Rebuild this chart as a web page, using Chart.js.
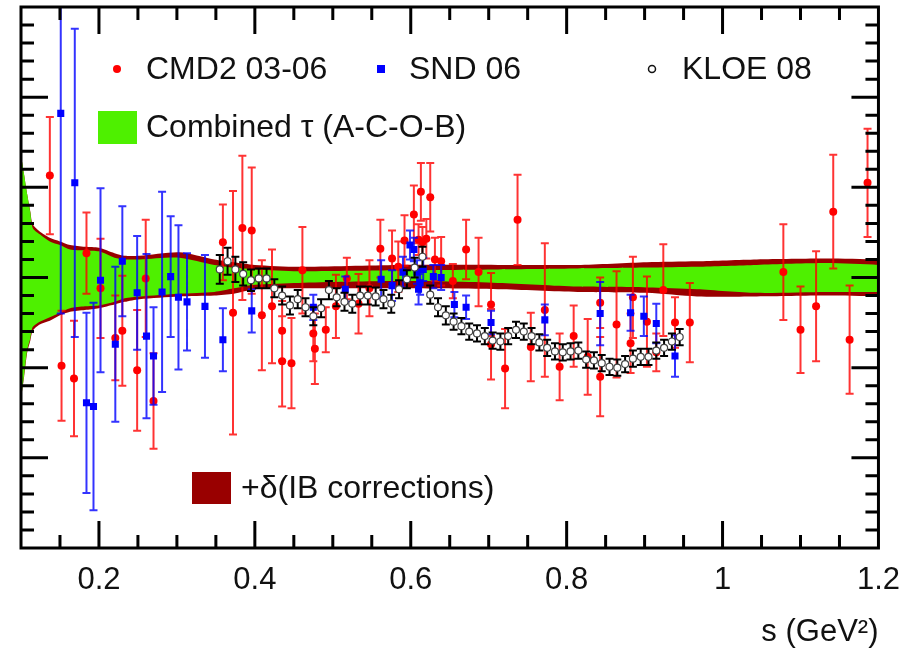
<!DOCTYPE html>
<html>
<head>
<meta charset="utf-8">
<script src="https://cdn.jsdelivr.net/npm/chart.js@4.4.1/dist/chart.umd.min.js"></script>
<style>
  html, body { margin: 0; padding: 0; background: #fff; }
  #wrap { width: 914px; height: 651px; }
</style>
</head>
<body>
<div id="wrap"><canvas id="chart" width="914" height="651"></canvas></div>
<script>
// CMD2 03-06 (s in GeV^2, relative difference, error)
const cmdS = [0.137,0.152,0.168,0.184,0.202,0.221,0.230,0.249,0.260,0.270,0.359,0.372,0.384,0.396,0.409,0.422,0.435,0.435,0.447,0.461,0.475,0.477,0.491,0.504,0.518,0.533,0.547,0.561,0.576,0.584,0.592,0.604,0.610,0.613,0.615,0.620,0.625,0.631,0.639,0.654,0.671,0.687,0.703,0.703,0.721,0.737,0.754,0.772,0.791,0.809,0.827,0.843,0.843,0.864,0.882,0.885,0.903,0.915,0.924,0.939,0.958,1.078,1.100,1.120,1.142,1.163,1.186];
const cmdV = [11.3,-9.8,-11.2,2.7,-1.2,-6.7,-5.9,-10.3,-0.1,-13.7,3.9,-3.9,5.5,5.2,-4.2,-3.2,-5.9,-9.3,-9.5,0.8,-6.2,-7.9,-5.8,-3.2,-0.1,-2.9,-1.2,3.2,2.1,1.2,4.1,7.0,4.2,9.5,3.9,4.3,8.9,2.0,1.8,-0.4,3.1,0.6,-3.0,-7.4,-10.1,6.4,-7.7,-3.6,-9.9,-6.5,-8.8,-11.0,-2.8,-5.2,-7.3,-2.2,-4.9,-8.3,-1.4,-5.0,-5.0,0.6,-5.8,-3.2,7.3,-6.9,10.5];
const cmdE = [6.5,6.1,6.4,4.5,5.5,4.7,6.1,6.7,6.5,5.3,4.2,13.5,8.0,7.0,6.1,6.3,3.3,5.0,5.0,4.8,3.1,3.9,2.5,3.5,2.3,3.3,3.1,3.2,3.1,2.8,2.8,3.2,1.7,3.2,1.7,2.2,3.8,2.4,2.7,1.9,3.3,3.8,3.5,3.9,4.4,5.0,3.8,7.4,3.7,3.4,4.2,4.4,2.8,5.9,3.3,4.5,5.0,2.1,5.1,2.8,4.4,5.3,4.8,6.1,6.3,6.0,6.0];

// SND 06
const sndS = [0.151,0.169,0.184,0.193,0.202,0.221,0.230,0.249,0.261,0.270,0.281,0.292,0.302,0.313,0.336,0.359,0.396,0.475,0.516,0.562,0.576,0.590,0.599,0.604,0.608,0.610,0.612,0.616,0.629,0.639,0.656,0.671,0.703,0.772,0.843,0.882,0.899,0.915,0.939];
const sndV = [18.2,10.5,-13.9,-14.3,-0.3,-7.4,1.8,-1.7,-6.5,-8.7,-1.6,0.1,-2.2,-2.7,-3.2,-6.9,-3.7,-3.3,-1.3,-0.2,-0.9,0.6,3.6,3.1,0.6,-1.3,-0.6,0.9,0.1,0.0,-3.0,-3.3,-5.0,-4.7,-4.0,-3.9,-4.3,-5.1,-8.7];
const sndE = [22.2,17.1,10.0,11.5,10.2,8.6,6.1,6.3,9.1,5.4,11.1,6.7,8.0,5.4,5.7,3.5,2.4,1.4,1.4,2.1,1.7,1.7,1.6,1.3,1.3,1.7,1.3,1.3,1.3,1.4,1.4,1.3,1.3,1.7,3.5,2.0,2.2,2.2,2.3];

// KLOE 08
const kloeS = [0.355,0.365,0.375,0.385,0.395,0.405,0.415,0.425,0.435,0.445,0.455,0.465,0.475,0.485,0.495,0.505,0.515,0.525,0.535,0.545,0.555,0.565,0.575,0.585,0.595,0.605,0.615,0.625,0.635,0.645,0.655,0.665,0.675,0.685,0.695,0.705,0.715,0.725,0.735,0.745,0.755,0.765,0.775,0.785,0.795,0.805,0.815,0.825,0.835,0.845,0.855,0.865,0.875,0.885,0.895,0.905,0.915,0.925,0.935,0.945];
const kloeV = [0.9,1.8,0.9,0.4,-0.3,-0.1,-0.1,-1.2,-2.0,-3.1,-2.4,-3.3,-4.3,-3.4,-1.4,-2.2,-2.7,-2.9,-2.0,-2.0,-2.1,-2.4,-2.9,-1.3,-0.2,1.1,2.3,-1.9,-3.3,-4.2,-4.9,-5.4,-6.0,-6.2,-6.5,-7.0,-7.1,-6.5,-5.8,-6.0,-6.5,-7.2,-7.8,-8.2,-8.3,-8.2,-8.1,-9.1,-9.2,-9.5,-9.9,-10.0,-9.6,-9.0,-8.8,-8.8,-8.1,-7.8,-7.1,-6.6];
const kloeE = [1.6,1.5,1.4,1.3,1.2,1.1,1.1,1.0,1.0,1.0,1.0,1.0,1.0,1.0,1.0,1.0,1.0,1.0,1.0,1.0,1.0,1.0,1.0,1.0,1.0,1.1,1.1,1.0,1.0,1.0,0.9,0.9,0.9,0.9,0.9,0.9,0.9,0.9,0.9,0.9,0.9,0.9,0.9,0.9,0.9,0.9,0.9,0.9,0.9,0.9,0.9,0.9,0.9,0.9,0.9,0.9,0.9,0.9,0.9,0.9];

// combined tau band and the band with IB corrections
const bandS = [0.1,0.104,0.108,0.112,0.115,0.124,0.137,0.15,0.163,0.182,0.2,0.22,0.233,0.252,0.303,0.348,0.373,0.4,0.456,0.584,0.712,0.814,0.903,0.967,1.044,1.133,1.2];
const tauHi = [13.6,11.4,9.2,7.2,5.5,4.8,4.0,3.6,3.1,3.0,2.9,2.2,2.0,2.0,2.2,1.4,1.1,0.9,0.7,0.8,0.9,1.0,1.1,1.2,1.4,1.6,1.4];
const tauLo = [-13.5,-10.8,-8.0,-6.7,-5.5,-4.9,-4.4,-3.9,-3.4,-3.2,-3.1,-2.7,-2.3,-2.1,-1.8,-1.6,-1.2,-0.8,-0.6,-0.4,-0.6,-1.0,-1.1,-1.3,-1.7,-1.6,-1.6];
const ibHi = [13.6,11.4,9.2,7.3,5.9,5.1,4.4,4.0,3.6,3.4,3.3,2.7,2.4,2.4,2.8,2.0,1.7,1.4,1.2,1.4,1.4,1.4,1.7,1.8,2.0,2.1,2.0];
const ibLo = [-13.5,-11.0,-8.3,-7.0,-5.9,-5.2,-4.8,-4.2,-3.8,-3.6,-3.4,-3.0,-2.7,-2.4,-2.1,-2.0,-1.8,-1.3,-1.2,-1.2,-1.3,-1.6,-1.7,-2.1,-2.1,-2.0,-2.1];

const xTickValues = [0.2, 0.4, 0.6, 0.8, 1.0, 1.2];
const xTickLabels = ['0.2', '0.4', '0.6', '0.8', '1', '1.2'];

const FONT = '"Liberation Sans", Arial, Helvetica, sans-serif';

function pts(xs, ys) {
    return xs.map((s, i) => ({ x: s, y: ys[i] }));
}

// vertical error bars with small caps, drawn under each dataset's markers
const errorBars = {
    id: 'errorBars',
    beforeDatasetDraw(chart, args) {
        const ds = chart.data.datasets[args.index];
        if (!ds.errors) return;
        const { ctx, chartArea: a, scales: { x, y } } = chart;
        ctx.save();
        ctx.beginPath();
        ctx.rect(a.left, a.top, a.width, a.height);
        ctx.clip();
        ctx.strokeStyle = ds.errorColor;
        ctx.lineWidth = ds.errorWidth;
        ctx.beginPath();
        ds.data.forEach((p, i) => {
            const px = x.getPixelForValue(p.x);
            const hi = y.getPixelForValue(p.y + ds.errors[i]);
            const lo = y.getPixelForValue(p.y - ds.errors[i]);
            ctx.moveTo(px, hi); ctx.lineTo(px, lo);
            ctx.moveTo(px - 4, hi); ctx.lineTo(px + 4, hi);
            ctx.moveTo(px - 4, lo); ctx.lineTo(px + 4, lo);
        });
        ctx.stroke();
        ctx.restore();
    }
};

// ROOT style frame with inward ticks on all four sides
const frameTicks = {
    id: 'frameTicks',
    afterDatasetsDraw(chart) {
        const { ctx, chartArea: a, scales: { x, y } } = chart;
        ctx.save();
        ctx.strokeStyle = '#000';
        ctx.lineWidth = 3;
        ctx.beginPath();
        for (let i = 1; i < 22; i++) {
            const px = x.getPixelForValue(0.1 + i * 0.05);
            const len = (i - 2) % 4 === 0 ? 27 : 13;
            ctx.moveTo(px, a.bottom); ctx.lineTo(px, a.bottom - len);
            ctx.moveTo(px, a.top); ctx.lineTo(px, a.top + len);
        }
        for (let i = 1; i < 30; i++) {
            const py = y.getPixelForValue(-30 + i * 2);
            const len = i % 5 === 0 ? 27 : 13;
            ctx.moveTo(a.left, py); ctx.lineTo(a.left + len, py);
            ctx.moveTo(a.right, py); ctx.lineTo(a.right - len, py);
        }
        ctx.stroke();
        ctx.lineWidth = 3;
        ctx.strokeRect(a.left, a.top, a.width, a.height);
        ctx.restore();
    }
};

// legend boxes inside the frame, as in the original figure
const legendBox = {
    id: 'legendBox',
    afterDraw(chart) {
        const ctx = chart.ctx;
        ctx.save();
        ctx.font = '32px ' + FONT;
        ctx.textBaseline = 'middle';
        ctx.fillStyle = '#111';

        ctx.fillStyle = '#ff0000';
        ctx.beginPath(); ctx.arc(117, 69, 4, 0, Math.PI * 2); ctx.fill();
        ctx.fillStyle = '#0000ff';
        ctx.fillRect(377, 65, 8, 8);
        ctx.strokeStyle = '#111';
        ctx.lineWidth = 1.5;
        ctx.beginPath(); ctx.arc(652, 69, 3.5, 0, Math.PI * 2); ctx.stroke();
        ctx.fillStyle = '#4ef000';
        ctx.fillRect(98, 111, 39, 33);
        ctx.fillStyle = '#990000';
        ctx.fillRect(192, 472, 39, 32);

        ctx.fillStyle = '#111';
        ctx.fillText('CMD2 03-06', 146, 70);
        ctx.fillText('SND 06', 409, 70);
        ctx.fillText('KLOE 08', 682, 70);
        ctx.fillText('Combined \u03c4 (A-C-O-B)', 146, 128);
        ctx.fillText('+\u03b4(IB corrections)', 241, 489);
        ctx.restore();
    }
};

const bandStyle = {
    showLine: true,
    pointRadius: 0,
    borderWidth: 1,
    borderColor: 'rgba(0,0,0,0)',
    tension: 0.25
};

const data = {
    datasets: [
        Object.assign({ label: 'IB hi', data: pts(bandS, ibHi), fill: '+1', backgroundColor: '#990000', order: 11 }, bandStyle),
        Object.assign({ label: 'IB lo', data: pts(bandS, ibLo), fill: false, order: 11 }, bandStyle),
        Object.assign({ label: 'tau hi', data: pts(bandS, tauHi), fill: '+1', backgroundColor: '#4ef000', order: 10 }, bandStyle),
        Object.assign({ label: 'tau lo', data: pts(bandS, tauLo), fill: false, order: 10 }, bandStyle),
        {
            label: 'CMD2 03-06',
            data: pts(cmdS, cmdV),
            errors: cmdE,
            errorColor: 'rgba(255,0,0,0.8)',
            errorWidth: 2,
            showLine: false,
            pointStyle: 'circle',
            pointRadius: 4,
            pointBorderWidth: 0,
            pointBackgroundColor: '#ff0000',
            order: 3
        },
        {
            label: 'SND 06',
            data: pts(sndS, sndV),
            errors: sndE,
            errorColor: 'rgba(0,0,255,0.8)',
            errorWidth: 2,
            showLine: false,
            pointStyle: 'rect',
            pointRadius: 5,
            pointBorderWidth: 0,
            pointBackgroundColor: '#0000ff',
            order: 2
        },
        {
            label: 'KLOE 08',
            data: pts(kloeS, kloeV),
            errors: kloeE,
            errorColor: '#000',
            errorWidth: 2,
            showLine: false,
            pointStyle: 'circle',
            pointRadius: 3.5,
            pointBorderWidth: 1.2,
            pointBorderColor: '#444',
            pointBackgroundColor: '#fff',
            order: 1
        }
    ]
};

const config = {
    type: 'line',
    data: data,
    options: {
        responsive: false,
        animation: false,
        devicePixelRatio: 1,
        layout: {
            padding: { left: 21, right: 32, top: 7, bottom: 0 }
        },
        plugins: {
            legend: { display: false },
            tooltip: { enabled: false }
        },
        scales: {
            x: {
                type: 'linear',
                min: 0.1,
                max: 1.2,
                grid: { display: false, drawTicks: false },
                border: { display: false },
                afterBuildTicks: (scale) => {
                    scale.ticks = xTickValues.map(v => ({ value: v }));
                },
                afterFit: (scale) => {
                    scale.height = 103;
                },
                ticks: {
                    font: { family: FONT, size: 31 },
                    color: '#111',
                    padding: 14,
                    maxRotation: 0,
                    autoSkip: false,
                    callback: (value) => {
                        const i = xTickValues.findIndex(t => Math.abs(t - value) < 1e-6);
                        return i >= 0 ? xTickLabels[i] : '';
                    }
                },
                title: {
                    display: true,
                    text: 's (GeV\u00b2)',
                    align: 'end',
                    color: '#111',
                    font: { family: FONT, size: 31 },
                    padding: 0
                }
            },
            y: {
                min: -30,
                max: 30,
                display: false
            }
        }
    },
    plugins: [errorBars, frameTicks, legendBox]
};

const chart = new Chart(document.getElementById('chart'), config);
</script>
</body>
</html>
